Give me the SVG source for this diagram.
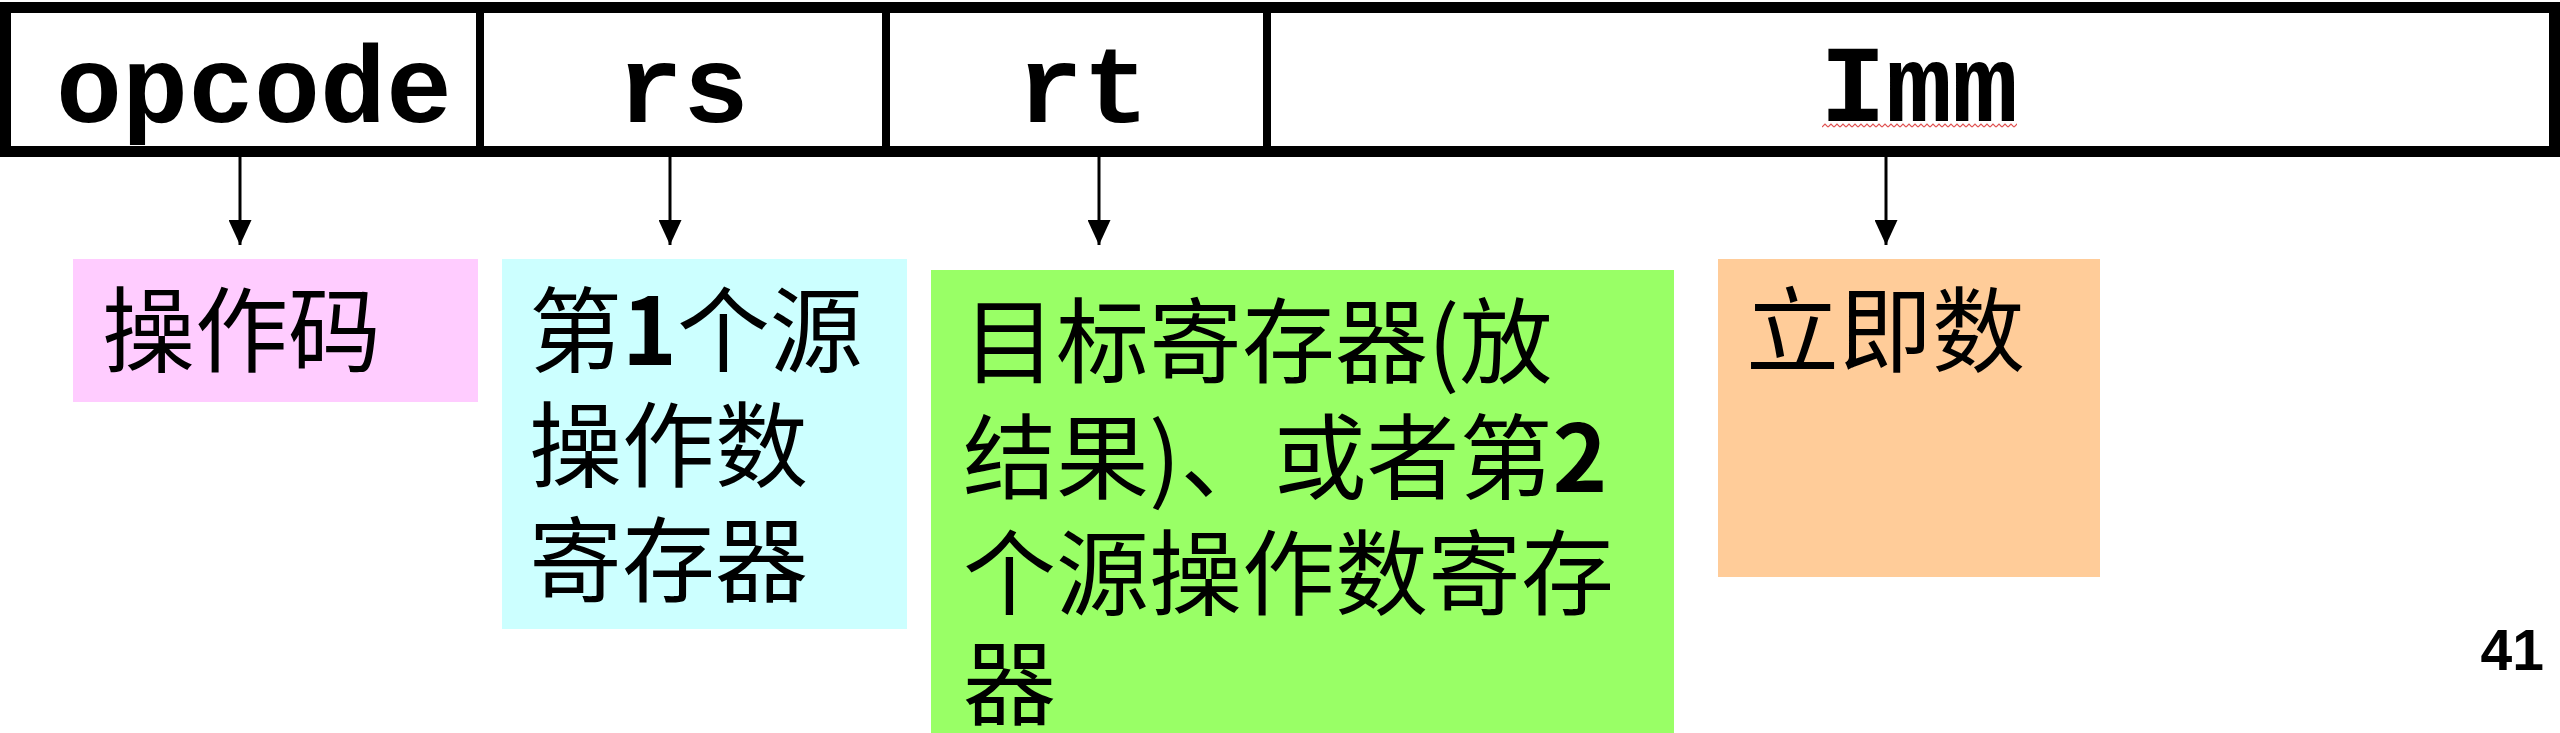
<svg xmlns="http://www.w3.org/2000/svg" width="2560" height="733" viewBox="0 0 2560 733">
  <style>
    .field { font-family: "Liberation Mono", "Courier New", monospace; font-weight: bold; font-size: 110px; fill: #000; text-anchor: middle; }
    .cn { font-family: "Noto Sans CJK SC", "Noto Sans", sans-serif; font-size: 93px; fill: #000; }
    .num { font-weight: bold; }
    .conn { stroke: #000; stroke-width: 3; fill: none; marker-end: url(#arrow); }
    .divider { stroke: #000; stroke-width: 8; }
  </style>
  <defs>
    <marker id="arrow" markerUnits="userSpaceOnUse" markerWidth="25" markerHeight="23" refX="25" refY="11.5" orient="auto" viewBox="0 0 25 23">
      <path d="M0,0 L25,11.5 L0,23 Z" fill="#000"/>
    </marker>
    <pattern id="squiggle" patternUnits="userSpaceOnUse" x="1822" y="123" width="6" height="5">
      <path d="M0,4 L3,1 L6,4" fill="none" stroke="#e05050" stroke-width="1.2"/>
    </pattern>
  </defs>
  <rect width="2560" height="733" fill="#fff"/>

  <g id="instruction-format">
    <rect x="5.5" y="7.5" width="2549" height="144" fill="#fff" stroke="#000" stroke-width="11"/>
    <line class="divider" x1="480" y1="13" x2="480" y2="146"/>
    <line class="divider" x1="886" y1="13" x2="886" y2="146"/>
    <line class="divider" x1="1267" y1="13" x2="1267" y2="146"/>
  </g>
  <g id="field-opcode"><text class="field" x="254" y="122">opcode</text></g>
  <g id="field-rs"><text class="field" x="683" y="122">rs</text></g>
  <g id="field-rt"><text class="field" x="1083" y="122">rt</text></g>
  <g id="field-imm">
    <text class="field" x="1919" y="121">Imm</text>
    <rect x="1822" y="123" width="195" height="5" fill="url(#squiggle)"/>
  </g>

  <g id="connectors">
    <line class="conn" x1="240" y1="157" x2="240" y2="245"/>
    <line class="conn" x1="670" y1="157" x2="670" y2="245"/>
    <line class="conn" x1="1099" y1="157" x2="1099" y2="245"/>
    <line class="conn" x1="1886" y1="157" x2="1886" y2="245"/>
  </g>

  <g id="box-opcode">
    <rect x="73" y="259" width="405" height="143" fill="#FFCCFF"/>
    <text class="cn" x="102" y="365">操作码</text>
  </g>
  <g id="box-rs">
    <rect x="502" y="259" width="405" height="370" fill="#CCFFFF"/>
    <text class="cn" x="529" y="365">第<tspan class="num">1</tspan>个源</text>
    <text class="cn" x="529" y="480">操作数</text>
    <text class="cn" x="529" y="595">寄存器</text>
  </g>
  <g id="box-rt">
    <rect x="931" y="270" width="743" height="463" fill="#99FF66"/>
    <text class="cn" x="963" y="376">目标寄存器(放</text>
    <text class="cn" x="963" y="492">结果)、或者第<tspan class="num">2</tspan></text>
    <text class="cn" x="963" y="608">个源操作数寄存</text>
    <text class="cn" x="963" y="718">器</text>
  </g>
  <g id="box-imm">
    <rect x="1718" y="259" width="382" height="318" fill="#FFCC99"/>
    <text class="cn" x="1746" y="365">立即数</text>
  </g>

  <g id="page-number">
    <text x="2544" y="670" font-family="Liberation Sans, Arial, sans-serif" font-weight="bold" font-size="57" text-anchor="end">41</text>
  </g>
</svg>
